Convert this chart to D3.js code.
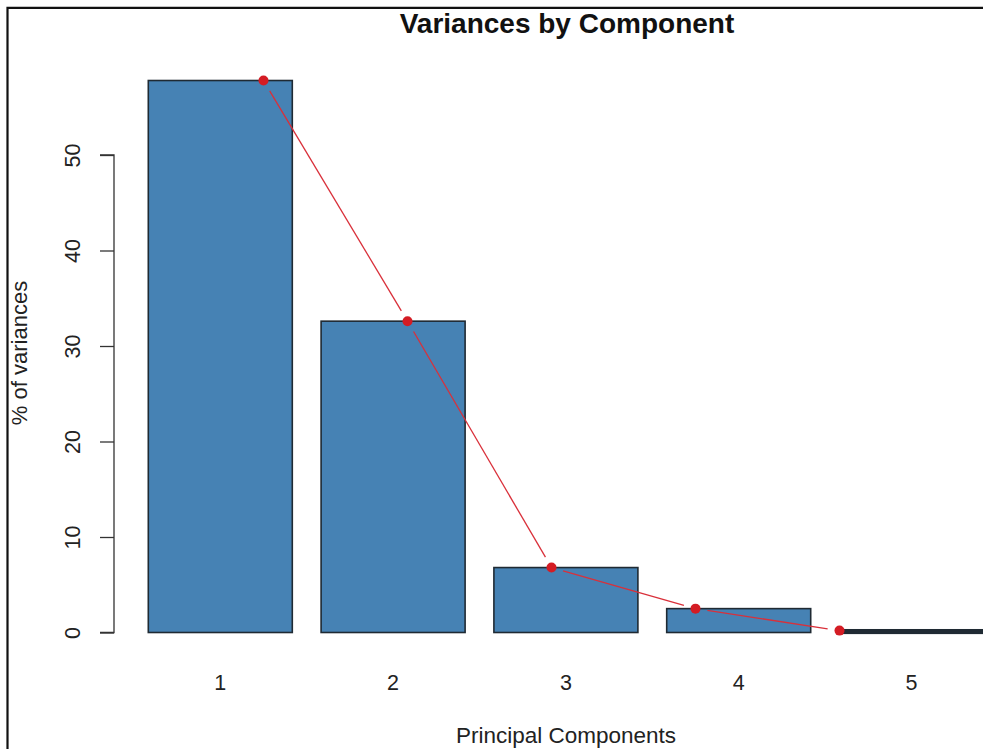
<!DOCTYPE html>
<html><head><meta charset="utf-8">
<script src="https://cdn.jsdelivr.net/npm/d3@7"></script>
<style>html,body{margin:0;padding:0;background:#fff;}svg{display:block;font-family:"Liberation Sans",Arial,sans-serif;}</style>
</head><body>
<script>
const components = ["1","2","3","4","5"];
const variances = [57.8, 32.6, 6.8, 2.5, 0.2];
const yTicks = [0,10,20,30,40,50];
const titleText = "Variances by Component";
const xLabel = "Principal Components";
const yLabel = "% of variances";

const W = 983, H = 749;
const svg = d3.select("body").append("svg").attr("width", W).attr("height", H);

// frame
svg.append("path").attr("d", `M7.5,${H} L7.5,7.8 L${W},7.8`)
  .attr("fill","none").attr("stroke","#111").attr("stroke-width",2.2);

// scales (barplot user coords: bars start 0.2, width 1, space 0.2)
const x = d3.scaleLinear().domain([0.2, 1.2]).range([148.3, 292.3]);
const y = d3.scaleLinear().domain([0, 50]).range([632.5, 155]);

const g = svg.append("g");

// bars
g.selectAll("rect.bar").data(variances).enter().append("rect")
  .attr("class","bar")
  .attr("x", (d,i)=> x(0.2 + 1.2*i))
  .attr("width", (d,i)=> x(1.2 + 1.2*i) - x(0.2 + 1.2*i))
  .attr("y", d=> y(d))
  .attr("height", d=> Math.max(0, y(0) - y(d)))
  .attr("fill","#4682B4")
  .attr("stroke","#1f2a33")
  .attr("stroke-width", (d)=> (y(0)-y(d) < 3 ? 3.2 : 1.6));

// y axis
const yAxis = d3.axisLeft(y).tickValues(yTicks).tickSize(14).tickPadding(18);
const ya = svg.append("g").attr("transform","translate(114,0)").call(yAxis);
ya.select(".domain").attr("stroke","#333").attr("stroke-width",1.3).attr("d", `M-14,${y(0)}H0V${y(50)}H-14`);
ya.selectAll(".tick line").attr("stroke","#333").attr("stroke-width",1.3);
ya.selectAll(".tick text")
  .attr("font-size",21.5).attr("fill","#222")
  .attr("text-anchor","middle")
  .attr("x",0).attr("dy",0)
  .attr("transform", `translate(-42,0) rotate(-90)`)
  .attr("y",7.5);

// x labels
svg.append("g").selectAll("text").data(components).enter().append("text")
  .attr("x",(d,i)=> x(0.7 + 1.2*i))
  .attr("y",690)
  .attr("text-anchor","middle")
  .attr("font-size",21.5).attr("fill","#222")
  .text(d=>d);

// line with points (type "b")
const pts = variances.map((v,i)=>[x(i+1), y(v)]);
const gap = 12;
const lineG = svg.append("g");
for (let i=0;i<pts.length-1;i++){
  const [x1,y1]=pts[i],[x2,y2]=pts[i+1];
  const dx=x2-x1, dy=y2-y1, L=Math.hypot(dx,dy);
  if (L < 2*gap) continue;
  const ux=dx/L, uy=dy/L;
  lineG.append("line")
    .attr("x1",x1+ux*gap).attr("y1",y1+uy*gap)
    .attr("x2",x2-ux*gap).attr("y2",y2-uy*gap)
    .attr("stroke","#d9303a").attr("stroke-width",1.3);
}
lineG.selectAll("circle").data(pts).enter().append("circle")
  .attr("cx",d=>d[0]).attr("cy",d=>d[1]).attr("r",5)
  .attr("fill","#d41c24");

// title
svg.append("text").attr("x",567).attr("y",33).attr("text-anchor","middle")
  .attr("font-size",28).attr("font-weight","bold").attr("fill","#111")
  .text(titleText);

// axis titles
svg.append("text").attr("x",566).attr("y",743).attr("text-anchor","middle")
  .attr("font-size",22.5).attr("fill","#222").text(xLabel);
svg.append("text").attr("transform","translate(27,353) rotate(-90)")
  .attr("text-anchor","middle").attr("font-size",22).attr("fill","#222").text(yLabel);
</script>
</body></html>
